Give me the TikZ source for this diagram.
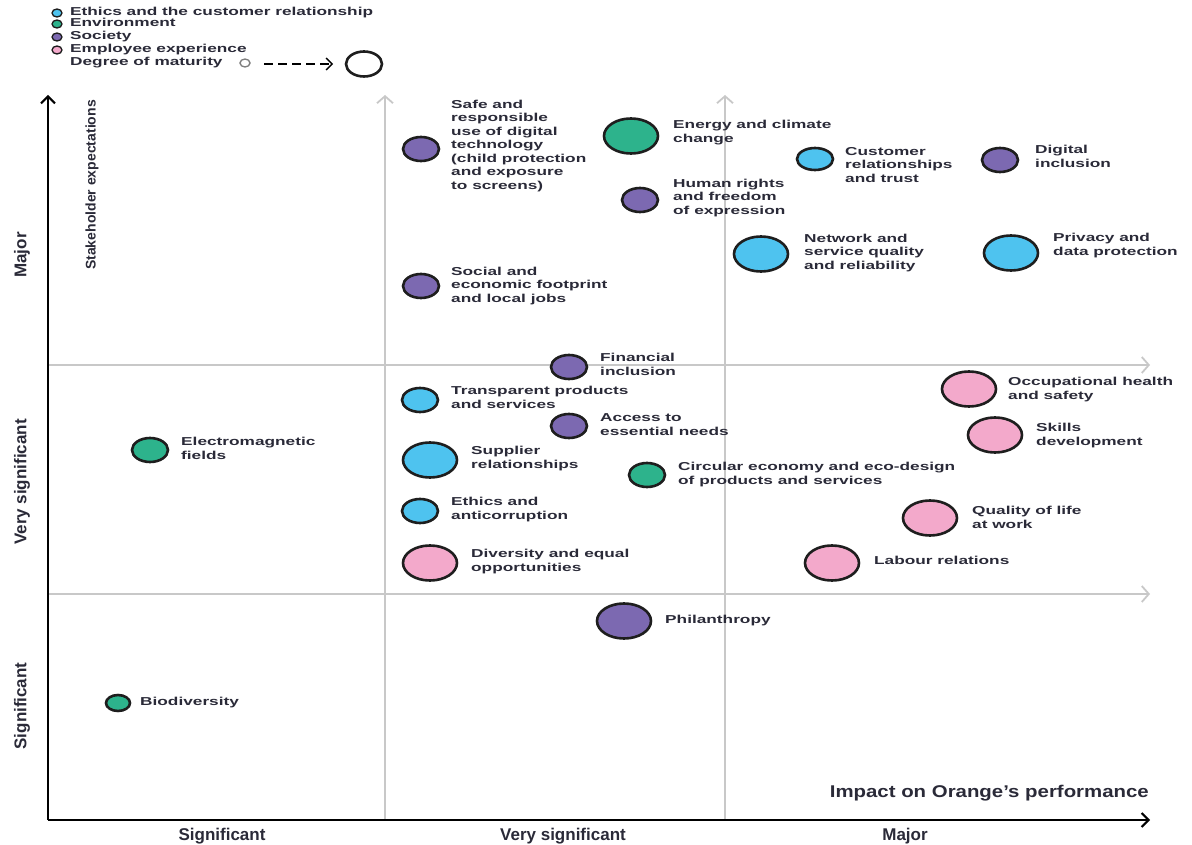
\documentclass[tikz,border=0pt]{standalone}
\usepackage{fontspec}
\setmainfont{Liberation Sans}
\usetikzlibrary{shapes.geometric,arrows.meta}
\definecolor{cgreen}{HTML}{2DB38C}
\definecolor{cblue}{HTML}{4EC3EF}
\definecolor{cpurple}{HTML}{7C69B1}
\definecolor{cpink}{HTML}{F3A9CB}
\definecolor{outl}{HTML}{1E1E1E}
\definecolor{txt}{HTML}{2A2A38}
\definecolor{grid}{HTML}{C8C8C8}
\newcommand\lbl[1]{\scalebox{1.5}[1]{\begin{tabular}{@{}l@{}}#1\end{tabular}}}
\newcommand\labfont{\fontsize{11.5}{13.5}\selectfont\bfseries}
\newcommand\legfont{\fontsize{11.5}{12.5}\selectfont\bfseries}
\newcommand\axfont{\fontsize{17}{20}\selectfont\bfseries}
\begin{document}
\begin{tikzpicture}[x=1pt,y=-1pt,
  bub/.style={ellipse, draw=outl, line width=2.6pt, inner sep=0pt},
  sml/.style={bub, minimum width=36pt, minimum height=24pt},
  big/.style={bub, minimum width=54pt, minimum height=35pt},
  tiny/.style={bub, minimum width=24pt, minimum height=16pt},
  lab/.style={anchor=west, inner sep=0pt, text=txt, font=\labfont},
  leg/.style={ellipse, draw=outl, line width=1.3pt, inner sep=0pt, minimum width=10pt, minimum height=8pt},
  axlab/.style={inner sep=0pt, text=txt, font=\axfont},
  gridline/.style={draw=grid, line width=1.8pt, -{Straight Barb[length=7pt,width=16pt]}},
  axisline/.style={draw=black, line width=2pt, -{Straight Barb[length=7pt,width=14pt]}}]
\useasboundingbox (0,0) rectangle (1192,845);

% legend
\node[leg, fill=cblue] (l1) at (57,13) {};
\node[leg, fill=cgreen] (l2) at (57,24) {};
\node[leg, fill=cpurple] (l3) at (57,37) {};
\node[leg, fill=cpink] (l4) at (57,50) {};
\node[lab, font=\legfont] (t1) at (70,13) {\lbl{Ethics and the customer relationship}};
\node[lab, font=\legfont] (t2) at (70,24) {\lbl{Environment}};
\node[lab, font=\legfont] (t3) at (70,37) {\lbl{Society}};
\node[lab, font=\legfont] (t4) at (70,50) {\lbl{Employee experience}};
\node[lab, font=\legfont] (t5) at (70,63) {\lbl{Degree of maturity}};
\node[leg, draw=gray, line width=1.4pt, fill=white] (m1) at (245,63) {};
\node[bub, fill=white, minimum width=36pt, minimum height=25pt] (m2) at (364,64) {};
\coordinate (ma) at (264,64);
\coordinate (mb) at (333,64);
\draw[line width=1.3pt, dash pattern=on 9pt off 5pt, -{Straight Barb[length=6pt,width=12pt]}] (ma) -- (mb);

% axes and grid
\coordinate (o) at (48,820);
\coordinate (ytop) at (48,95);
\coordinate (xend) at (1150,820);
\coordinate (v1b) at (385,820);
\coordinate (v1t) at (385,95);
\coordinate (v2b) at (725,820);
\coordinate (v2t) at (725,95);
\coordinate (h1a) at (48,365);
\coordinate (h1b) at (1150,365);
\coordinate (h2a) at (48,594);
\coordinate (h2b) at (1150,594);
\draw[gridline] (v1b) -- (v1t);
\draw[gridline] (v2b) -- (v2t);
\draw[gridline] (h1a) -- (h1b);
\draw[gridline] (h2a) -- (h2b);
\draw[axisline] (o) -- (ytop);
\draw[axisline] (o) -- (xend);

% axis labels
\node[axlab, rotate=90] (ymaj) at (22,255) {Major};
\node[axlab, rotate=90] (yvs) at (22,482) {Very significant};
\node[axlab, rotate=90] (ysig) at (22,706) {Significant};
\node[axlab, rotate=90, font=\fontsize{14}{16}\selectfont\bfseries] (ystake) at (92,185) {Stakeholder expectations};
\node[axlab] (xsig) at (222,836) {Significant};
\node[axlab] (xvs) at (563,836) {Very significant};
\node[axlab] (xmaj) at (905,836) {Major};
\node[axlab, anchor=east] (ximp) at (1149,793) {\scalebox{1.2}[1]{Impact on Orange's performance}};

% bubbles
\node[sml, fill=cpurple] (b1) at (421,149) {};
\node[lab] (b1t) at (451,146) {\lbl{Safe and\\responsible\\use of digital\\technology\\(child protection\\and exposure\\to screens)}};
\node[big, fill=cgreen] (b2) at (631,136) {};
\node[lab] (b2t) at (673,133) {\lbl{Energy and climate\\change}};
\node[sml, fill=cpurple] (b3) at (640,200) {};
\node[lab] (b3t) at (673,198) {\lbl{Human rights\\and freedom\\of expression}};
\node[sml, fill=cblue, minimum height=22pt] (b4) at (815,159) {};
\node[lab] (b4t) at (845,166) {\lbl{Customer\\relationships\\and trust}};
\node[sml, fill=cpurple] (b5) at (1000,160) {};
\node[lab] (b5t) at (1035,158) {\lbl{Digital\\inclusion}};
\node[big, fill=cblue] (b6) at (761,254) {};
\node[lab] (b6t) at (804,253) {\lbl{Network and\\service quality\\and reliability}};
\node[big, fill=cblue] (b7) at (1011,253) {};
\node[lab] (b7t) at (1053,246) {\lbl{Privacy and\\data protection}};
\node[sml, fill=cpurple] (b8) at (421,286) {};
\node[lab] (b8t) at (451,286) {\lbl{Social and\\economic footprint\\and local jobs}};
\node[sml, fill=cpurple] (b9) at (569,367) {};
\node[lab] (b9t) at (600,366) {\lbl{Financial\\inclusion}};
\node[sml, fill=cblue] (b10) at (420,400) {};
\node[lab] (b10t) at (451,399) {\lbl{Transparent products\\and services}};
\node[sml, fill=cpurple] (b11) at (569,426) {};
\node[lab] (b11t) at (600,426) {\lbl{Access to\\essential needs}};
\node[big, fill=cblue] (b12) at (430,460) {};
\node[lab] (b12t) at (471,459) {\lbl{Supplier\\relationships}};
\node[sml, fill=cgreen] (b13) at (647,475) {};
\node[lab] (b13t) at (678,475) {\lbl{Circular economy and eco-design\\of products and services}};
\node[sml, fill=cblue] (b14) at (420,511) {};
\node[lab] (b14t) at (451,510) {\lbl{Ethics and\\anticorruption}};
\node[big, fill=cpink] (b15) at (430,563) {};
\node[lab] (b15t) at (471,562) {\lbl{Diversity and equal\\opportunities}};
\node[sml, fill=cgreen] (b16) at (150,450) {};
\node[lab] (b16t) at (181,450) {\lbl{Electromagnetic\\fields}};
\node[big, fill=cpurple] (b17) at (624,621) {};
\node[lab] (b17t) at (665,621) {\lbl{Philanthropy}};
\node[tiny, fill=cgreen] (b18) at (118,703) {};
\node[lab] (b18t) at (140,703) {\lbl{Biodiversity}};
\node[big, fill=cpink] (b19) at (969,389) {};
\node[lab] (b19t) at (1008,390) {\lbl{Occupational health\\and safety}};
\node[big, fill=cpink] (b20) at (995,435) {};
\node[lab] (b20t) at (1036,436) {\lbl{Skills\\development}};
\node[big, fill=cpink] (b21) at (930,518) {};
\node[lab] (b21t) at (972,519) {\lbl{Quality of life\\at work}};
\node[big, fill=cpink] (b22) at (832,563) {};
\node[lab] (b22t) at (874,562) {\lbl{Labour relations}};
\end{tikzpicture}
\end{document}
